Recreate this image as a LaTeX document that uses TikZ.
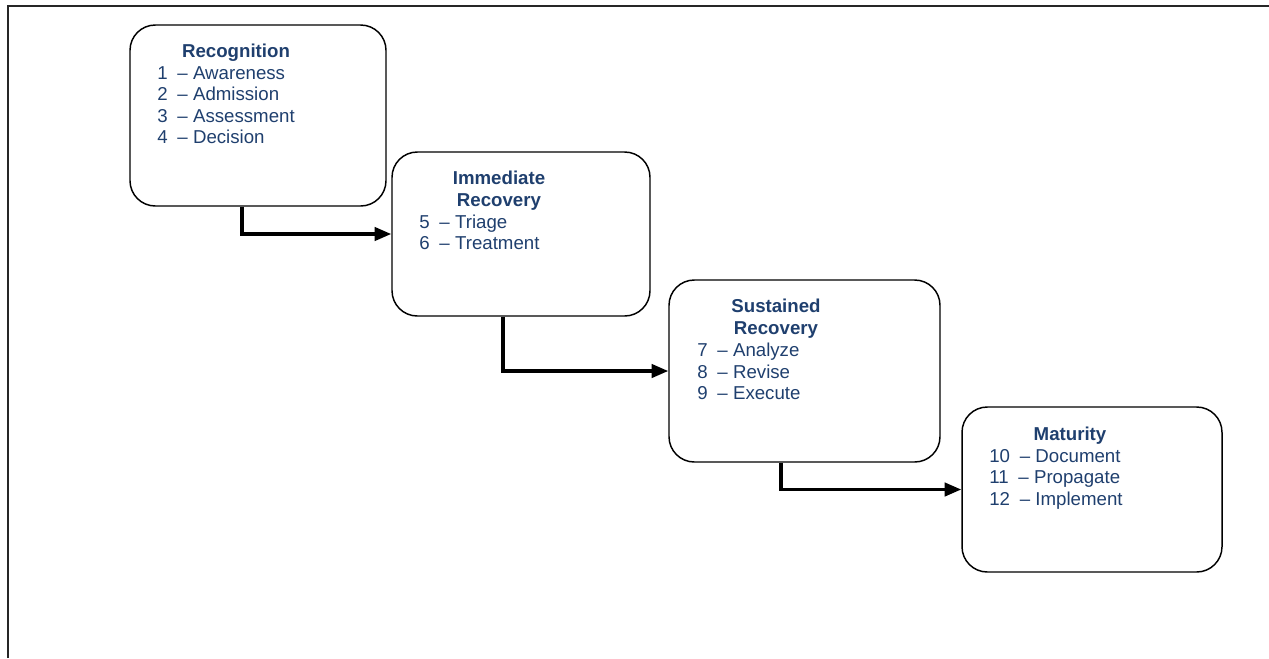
\documentclass[tikz,border=0pt]{standalone}
\usepackage{fontspec}
\setmainfont{Liberation Sans}
\usetikzlibrary{arrows.meta}
\definecolor{txtblue}{HTML}{1F3F6E}
\newcommand{\stepline}[2]{#1\hspace{3.5pt} – #2}
\begin{document}
\begin{tikzpicture}[x=0.75pt,y=-0.75pt,
  phase/.style={draw=black,line width=1.1pt,rounded corners=19pt,inner sep=0pt},
  ttl/.style={anchor=base,inner sep=0pt,text=txtblue,font=\fontsize{14pt}{16pt}\selectfont\bfseries},
  itm/.style={anchor=base west,inner sep=0pt,text=txtblue,font=\fontsize{14pt}{16pt}\selectfont},
  flow/.style={draw=black,line width=2.5pt,-{Triangle[length=12.5pt,width=10pt]}}]
\useasboundingbox (0,0) rectangle (1269,658);
\draw[line width=1.5pt,draw=black!85] (8,658) coordinate (fl) -- (8,6) coordinate (ftl) -- (1269,6) coordinate (fr);
% boxes
\node[phase,minimum width=256*0.75pt,minimum height=181*0.75pt] (b1) at (258,115.5) {};
\node[phase,minimum width=258*0.75pt,minimum height=164*0.75pt] (b2) at (521,234) {};
\node[phase,minimum width=271*0.75pt,minimum height=182*0.75pt] (b3) at (804.5,371) {};
\node[phase,minimum width=260*0.75pt,minimum height=165*0.75pt] (b4) at (1092,489.5) {};
% texts box 1
\node[ttl] (t1) at (236,57) {Recognition};
\node[itm] (t1a) at (157,79) {\stepline{1}{Awareness}};
\node[itm] (t1b) at (157,100.5) {\stepline{2}{Admission}};
\node[itm] (t1c) at (157,122) {\stepline{3}{Assessment}};
\node[itm] (t1d) at (157,143.5) {\stepline{4}{Decision}};
% box 2
\node[ttl] (t2) at (499,184) {Immediate};
\node[ttl] (t2r) at (499,206) {Recovery};
\node[itm] (t2a) at (419,228) {\stepline{5}{Triage}};
\node[itm] (t2b) at (419,249.5) {\stepline{6}{Treatment}};
% box 3
\node[ttl] (t3) at (776,312) {Sustained};
\node[ttl] (t3r) at (776,334) {Recovery};
\node[itm] (t3a) at (697,356.5) {\stepline{7}{Analyze}};
\node[itm] (t3b) at (697,378) {\stepline{8}{Revise}};
\node[itm] (t3c) at (697,399.5) {\stepline{9}{Execute}};
% box 4
\node[ttl] (t4) at (1070,440) {Maturity};
\node[itm] (t4a) at (989,462) {\stepline{10}{Document}};
\node[itm] (t4b) at (989,483.5) {\stepline{11}{Propagate}};
\node[itm] (t4c) at (989,505) {\stepline{12}{Implement}};
% connectors
\draw[flow] ([xshift=-12pt]b1.south) |- (b2.west);
\draw[flow] ([xshift=-13.5pt]b2.south) |- (b3.west);
\draw[flow] ([xshift=-17.6pt]b3.south) |- (b4.west);
\end{tikzpicture}
\end{document}
